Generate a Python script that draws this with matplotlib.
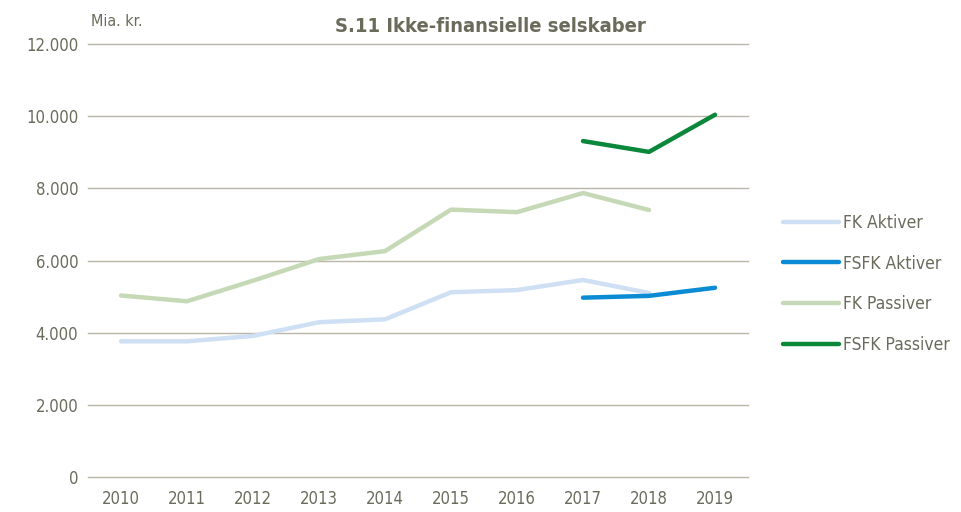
import matplotlib
matplotlib.use("Agg")
import matplotlib.pyplot as plt
import numpy as np
from matplotlib import font_manager

years = ["2010", "2011", "2012", "2013", "2014", "2015", "2016", "2017", "2018", "2019"]
fk_aktiver = [3760, 3760, 3910, 4290, 4370, 5120, 5180, 5460, 5100, None]
fsfk_aktiver = [None, None, None, None, None, None, None, 4970, 5020, 5245]
fk_passiver = [5030, 4870, 5440, 6040, 6260, 7410, 7340, 7870, 7400, None]
fsfk_passiver = [None, None, None, None, None, None, None, 9310, 9010, 10040]
yticks = [0, 2000, 4000, 6000, 8000, 10000, 12000]
ytick_labels = ["0", "2.000", "4.000", "6.000", "8.000", "10.000", "12.000"]

# look for a condensed sans font
cands = []
for f in font_manager.fontManager.ttflist:
    n = f.name.lower()
    fn = f.fname.lower()
    if ("narrow" in n or "condensed" in n or "condensed" in fn or "narrow" in fn
            or str(f.stretch).lower() in ("condensed", "semi-condensed", "extra-condensed")):
        if "mono" in n or "serif" in n and "sans" not in n:
            continue
        cands.append(f)
regular = [f for f in cands if f.weight in (400, "normal", "regular") and f.style == "normal"]
bold = [f for f in cands if f.weight in (700, "bold") and f.style == "normal"]
if regular:
    reg_fp = font_manager.FontProperties(fname=regular[0].fname)
    bold_fp = font_manager.FontProperties(fname=(bold[0].fname if bold else regular[0].fname))
    condensed = True
else:
    reg_fp = font_manager.FontProperties(family="Liberation Sans")
    bold_fp = font_manager.FontProperties(family="Liberation Sans", weight="bold")
    condensed = False

sz = 12 if condensed else 10.5
lsz = 12.5 if condensed else 11
tsz = 14.5 if condensed else 14

txt = "#6b6b5c"
grid = "#b8b6a8"

fig = plt.figure(figsize=(9.62, 5.12), dpi=100)
ax = fig.add_axes([88/962, 1-477/512, (748-88)/962, (477-44)/512])

x = np.arange(len(years))
def arr(v):
    return np.array([np.nan if a is None else a for a in v], dtype=float)

series = [
    ("FK Aktiver", fk_aktiver, "#cfe0f4"),
    ("FSFK Aktiver", fsfk_aktiver, "#0a8bd3"),
    ("FK Passiver", fk_passiver, "#c5d9b6"),
    ("FSFK Passiver", fsfk_passiver, "#0a873b"),
]
lines = []
for name, vals, col in series:
    l, = ax.plot(x, arr(vals), color=col, lw=3.2, solid_capstyle="round", solid_joinstyle="round", label=name)
    lines.append(l)

ax.set_xlim(-0.5, len(years) - 0.5)
ax.set_ylim(0, 12000)
ax.set_yticks(yticks)
ax.set_xticks(x)
ax.set_yticklabels(ytick_labels, fontproperties=reg_fp, fontsize=sz, color=txt)
ax.set_xticklabels(years, fontproperties=reg_fp, fontsize=sz, color=txt)
for s in ax.spines.values():
    s.set_visible(False)
for v in yticks:
    ax.axhline(v, color=grid, lw=1, zorder=0, clip_on=False)
ax.tick_params(axis="both", length=0)
ax.tick_params(axis="y", pad=7)
ax.tick_params(axis="x", pad=9)

fig.text(91/962, 1-22/512, "Mia. kr.", fontproperties=reg_fp, fontsize=sz - 0.5, color=txt, va="center", ha="left")
fig.text(490/962, 1-26/512, "S.11 Ikke-finansielle selskaber", fontproperties=bold_fp, fontsize=tsz,
         color=txt, va="center", ha="center")

leg_fp = reg_fp.copy()
leg_fp.set_size(lsz)
leg = fig.legend(handles=lines, loc="upper left", bbox_to_anchor=(776/962, 1-207/512),
                 frameon=False, prop=leg_fp, labelcolor=txt, handlelength=3.2,
                 handletextpad=0.25, labelspacing=1.3, borderaxespad=0)

fig.savefig("out.png", dpi=100)
